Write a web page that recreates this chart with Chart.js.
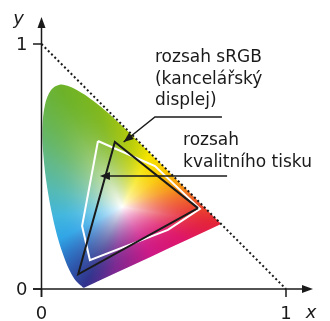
<!DOCTYPE html>
<html><head><meta charset="utf-8">
<script src="https://cdn.jsdelivr.net/npm/chart.js@4.4.0/dist/chart.umd.min.js"></script>
<style>html,body{margin:0;padding:0;background:#fff;overflow:hidden}</style>
</head><body>
<canvas id="c" width="330" height="321"></canvas>
<script>
// CIE 1931 spectral locus (chromaticity x, y), 380–700 nm
const locusX = [0.1741,0.1740,0.1738,0.1736,0.1733,0.1730,0.1726,0.1721,0.1714,0.1703,0.1689,0.1669,0.1644,0.1611,0.1566,0.1510,0.1440,0.1355,0.1241,0.1096,0.0913,0.0687,0.0454,0.0235,0.0082,0.0039,0.0139,0.0389,0.0743,0.1142,0.1547,0.1929,0.2296,0.2658,0.3016,0.3373,0.3731,0.4087,0.4441,0.4788,0.5125,0.5448,0.5752,0.6029,0.6270,0.6482,0.6658,0.6801,0.6915,0.7006,0.7079,0.7140,0.7190,0.7230,0.7260,0.7283,0.7300,0.7311,0.7320,0.7334,0.7344,0.7347];
const locusY = [0.0050,0.0050,0.0049,0.0049,0.0048,0.0048,0.0048,0.0048,0.0051,0.0058,0.0069,0.0086,0.0109,0.0138,0.0177,0.0227,0.0297,0.0399,0.0578,0.0868,0.1327,0.2007,0.2950,0.4127,0.5384,0.6548,0.7502,0.8120,0.8338,0.8262,0.8059,0.7816,0.7543,0.7243,0.6923,0.6589,0.6245,0.5896,0.5547,0.5202,0.4866,0.4544,0.4242,0.3965,0.3725,0.3514,0.3340,0.3197,0.3083,0.2993,0.2920,0.2859,0.2809,0.2770,0.2740,0.2717,0.2700,0.2689,0.2680,0.2666,0.2656,0.2653];
// sRGB gamut (office display)
const srgbX = [0.64, 0.30, 0.15];
const srgbY = [0.33, 0.60, 0.06];
// quality print gamut
const printX = [0.231, 0.464, 0.648, 0.517, 0.198, 0.166];
const printY = [0.604, 0.502, 0.327, 0.241, 0.118, 0.257];
// x + y = 1 boundary
const diagX = [0, 1];
const diagY = [1, 0];
// ticks and labels
const tickValues = [0, 1];
const tickLabels = ['0', '1'];
const axisTitles = ['x', 'y'];
const labelSRGB = ['rozsah sRGB', '(kancelářský', 'displej)'];
const labelPrint = ['rozsah', 'kvalitního tisku'];

// ---- colour styling for the horseshoe fill ----
const WHITE = [0.33, 0.335];
const edgeAnchors = [
  [0.1741,0.0050,[48,50,140]],
  [0.3000,0.0700,[125,40,145]],
  [0.4500,0.1350,[205,25,135]],
  [0.6000,0.1950,[222,22,105]],
  [0.7347,0.2653,[228,35,55]],
  [0.6270,0.3725,[240,100,40]],
  [0.5752,0.4242,[246,150,20]],
  [0.5125,0.4866,[250,200,0]],
  [0.4441,0.5547,[245,228,0]],
  [0.3731,0.6245,[185,205,10]],
  [0.2296,0.7543,[128,184,30]],
  [0.0743,0.8338,[108,178,40]],
  [0.0139,0.7502,[105,180,70]],
  [0.0082,0.5384,[98,184,135]],
  [0.0235,0.4127,[85,186,178]],
  [0.0454,0.2950,[65,182,222]],
  [0.0687,0.2007,[48,165,230]],
  [0.0913,0.1327,[45,120,200]],
  [0.1241,0.0578,[45,80,165]]
];

function buildPattern(chart){
  const w = chart.width, h = chart.height;
  const off = document.createElement('canvas'); off.width = w; off.height = h;
  const octx = off.getContext('2d');
  const img = octx.createImageData(w, h);
  const xs = chart.scales.x, ys = chart.scales.y;
  const n = locusX.length;
  const N = 1440;
  const bd = new Float32Array(N);
  for (let i = 0; i < N; i++){
    const a = (i + 0.5) / N * 2 * Math.PI - Math.PI;
    const dx = Math.cos(a), dy = Math.sin(a);
    let best = 1e9;
    for (let k = 0; k < n; k++){
      const ax = locusX[k]-WHITE[0], ay = locusY[k]-WHITE[1];
      const bx = locusX[(k+1)%n]-WHITE[0], by = locusY[(k+1)%n]-WHITE[1];
      const ex = bx-ax, ey = by-ay;
      const den = dx*ey - dy*ex;
      if (Math.abs(den) < 1e-12) continue;
      const t = (ax*ey - ex*ay)/den;
      const s = (dy*ax - dx*ay)/den;
      if (t > 0 && s >= -1e-9 && s <= 1+1e-9 && t < best) best = t;
    }
    bd[i] = best;
  }
  const anchors = edgeAnchors.map(a => ({ang: Math.atan2(a[1]-WHITE[1], a[0]-WHITE[0]), c: a[2]}))
    .sort((p, q) => p.ang - q.ang);
  function edgeColor(ang){
    const m = anchors.length;
    for (let i = 0; i < m - 1; i++){
      const A = anchors[i], B = anchors[i+1];
      if (ang >= A.ang && ang <= B.ang){
        const f = (ang - A.ang)/(B.ang - A.ang);
        return [A.c[0]+(B.c[0]-A.c[0])*f, A.c[1]+(B.c[1]-A.c[1])*f, A.c[2]+(B.c[2]-A.c[2])*f];
      }
    }
    const A = anchors[m-1], B = anchors[0];
    const a0 = A.ang, a1 = B.ang + 2*Math.PI;
    let aa = ang; if (aa < a0) aa += 2*Math.PI;
    const f = (aa - a0)/(a1 - a0);
    return [A.c[0]+(B.c[0]-A.c[0])*f, A.c[1]+(B.c[1]-A.c[1])*f, A.c[2]+(B.c[2]-A.c[2])*f];
  }
  for (let py = 0; py < h; py++){
    const y = ys.getValueForPixel(py + 0.5);
    for (let px = 0; px < w; px++){
      const x = xs.getValueForPixel(px + 0.5);
      const dx = x - WHITE[0], dy = y - WHITE[1];
      const ang = Math.atan2(dy, dx);
      let bi = Math.floor((ang + Math.PI)/(2*Math.PI)*N); if (bi < 0) bi = 0; if (bi >= N) bi = N-1;
      const t = Math.sqrt(dx*dx+dy*dy)/bd[bi];
      if (t > 1.15) continue;
      const tt = Math.min(t, 1);
      const f = 1 - Math.pow(1 - tt, 2.2);
      const e = edgeColor(ang);
      const o = (py*w + px)*4;
      img.data[o]   = 255 + (e[0]-255)*f;
      img.data[o+1] = 255 + (e[1]-255)*f;
      img.data[o+2] = 255 + (e[2]-255)*f;
      img.data[o+3] = 255;
    }
  }
  octx.putImageData(img, 0, 0);
  return chart.ctx.createPattern(off, 'no-repeat');
}
let cachedPattern = null;
function horseshoeFill(ctx){
  const chart = ctx.chart;
  if (!chart.chartArea || !chart.scales.x) return 'rgba(0,0,0,0)';
  if (!cachedPattern) cachedPattern = buildPattern(chart);
  return cachedPattern;
}

function closed(xs, ys){
  const d = xs.map((v, i) => ({x: v, y: ys[i]}));
  d.push({x: xs[0], y: ys[0]});
  return d;
}

const INK = '#1a1a1a';
const FONT = '"DejaVu Sans", Verdana, sans-serif';

function arrowHead(ctx, tx, ty, fx, fy, len, half){
  const a = Math.atan2(ty-fy, tx-fx);
  ctx.beginPath();
  ctx.moveTo(tx, ty);
  ctx.lineTo(tx - len*Math.cos(a) + half*Math.sin(a), ty - len*Math.sin(a) - half*Math.cos(a));
  ctx.lineTo(tx - len*Math.cos(a) - half*Math.sin(a), ty - len*Math.sin(a) + half*Math.cos(a));
  ctx.closePath();
  ctx.fill();
}

const axesPlugin = {
  id: 'axesPlugin',
  afterDatasetsDraw(chart){
    const ctx = chart.ctx, xs = chart.scales.x, ys = chart.scales.y;
    const x0 = xs.getPixelForValue(0), x1 = xs.getPixelForValue(1);
    const y0 = ys.getPixelForValue(0), y1 = ys.getPixelForValue(1);
    ctx.save();
    ctx.strokeStyle = INK; ctx.fillStyle = INK; ctx.lineWidth = 1.5; ctx.lineCap = 'butt';
    // x axis
    ctx.beginPath(); ctx.moveTo(x0-8.5, y0); ctx.lineTo(x1+20, y0); ctx.stroke();
    arrowHead(ctx, x1+27, y0, x0, y0, 11, 4);
    // y axis
    ctx.beginPath(); ctx.moveTo(x0, y0+8); ctx.lineTo(x0, y1-20); ctx.stroke();
    arrowHead(ctx, x0, y1-27, x0, y0, 11, 4);
    // ticks
    tickValues.forEach((v, i) => {
      const py = ys.getPixelForValue(v), px = xs.getPixelForValue(v);
      ctx.beginPath(); ctx.moveTo(x0-8.5, py); ctx.lineTo(x0, py); ctx.stroke();
      ctx.beginPath(); ctx.moveTo(px, y0); ctx.lineTo(px, y0+8); ctx.stroke();
      ctx.font = '18px ' + FONT;
      ctx.textAlign = 'right'; ctx.textBaseline = 'middle';
      ctx.fillText(tickLabels[i], x0-14, py+1);
      ctx.textAlign = 'center';
      ctx.fillText(tickLabels[i], px, y0+25);
    });
    ctx.font = 'italic 18px ' + FONT;
    ctx.textAlign = 'center'; ctx.textBaseline = 'middle';
    ctx.fillText(axisTitles[0], x1+25, y0+24);
    ctx.fillText(axisTitles[1], x0-23, y1-25);

    // annotations
    ctx.lineWidth = 1.5;
    ctx.font = '17px ' + FONT;
    ctx.textAlign = 'left'; ctx.textBaseline = 'alphabetic';
    // sRGB label
    const uY = ys.getPixelForValue(0.702);
    const uL = xs.getPixelForValue(0.464), uR = xs.getPixelForValue(0.738);
    const tipX = xs.getPixelForValue(0.336), tipY = ys.getPixelForValue(0.600);
    ctx.beginPath(); ctx.moveTo(uR, uY); ctx.lineTo(uL, uY); ctx.lineTo(tipX, tipY); ctx.stroke();
    arrowHead(ctx, tipX, tipY, uL, uY, 10, 4);
    labelSRGB.forEach((s, i) => ctx.fillText(s, uL, uY - 55 + i*21.5));
    // print label
    const pY = ys.getPixelForValue(0.461);
    const pL = xs.getPixelForValue(0.239), pR = xs.getPixelForValue(0.759);
    ctx.beginPath(); ctx.moveTo(pR, pY); ctx.lineTo(pL+4, pY); ctx.stroke();
    arrowHead(ctx, pL, pY, pR, pY, 10, 4);
    const tX = xs.getPixelForValue(0.579);
    labelPrint.forEach((s, i) => ctx.fillText(s, tX, pY - 31 + i*22));
    ctx.restore();
  }
};

new Chart(document.getElementById('c'), {
  type: 'scatter',
  data: {
    datasets: [
      {data: closed(srgbX, srgbY), showLine: true, borderColor: INK, borderWidth: 2, pointRadius: 0, fill: false, tension: 0, borderJoinStyle: 'miter'},
      {data: closed(printX, printY), showLine: true, borderColor: '#ffffff', borderWidth: 2, pointRadius: 0, fill: false, tension: 0, borderJoinStyle: 'miter'},
      {data: diagX.map((v, i) => ({x: v, y: diagY[i]})), showLine: true, borderColor: INK, borderWidth: 2, borderDash: [2, 2.6], pointRadius: 0, fill: false},
      {data: closed(locusX, locusY), showLine: true, borderColor: 'rgba(0,0,0,0)', borderWidth: 0, pointRadius: 0, fill: 'shape', backgroundColor: horseshoeFill, tension: 0.35}
    ]
  },
  options: {
    responsive: false, animation: false, devicePixelRatio: 1,
    layout: {padding: 0, autoPadding: false},
    plugins: {legend: {display: false}, tooltip: {enabled: false}},
    elements: {line: {clip: false}},
    scales: {
      x: {type: 'linear', display: false, min: -41.5/244.5, max: (330-41.5)/244.5},
      y: {type: 'linear', display: false, min: -(321-289)/245, max: 289/245}
    }
  },
  plugins: [axesPlugin]
});
</script>
</body></html>
